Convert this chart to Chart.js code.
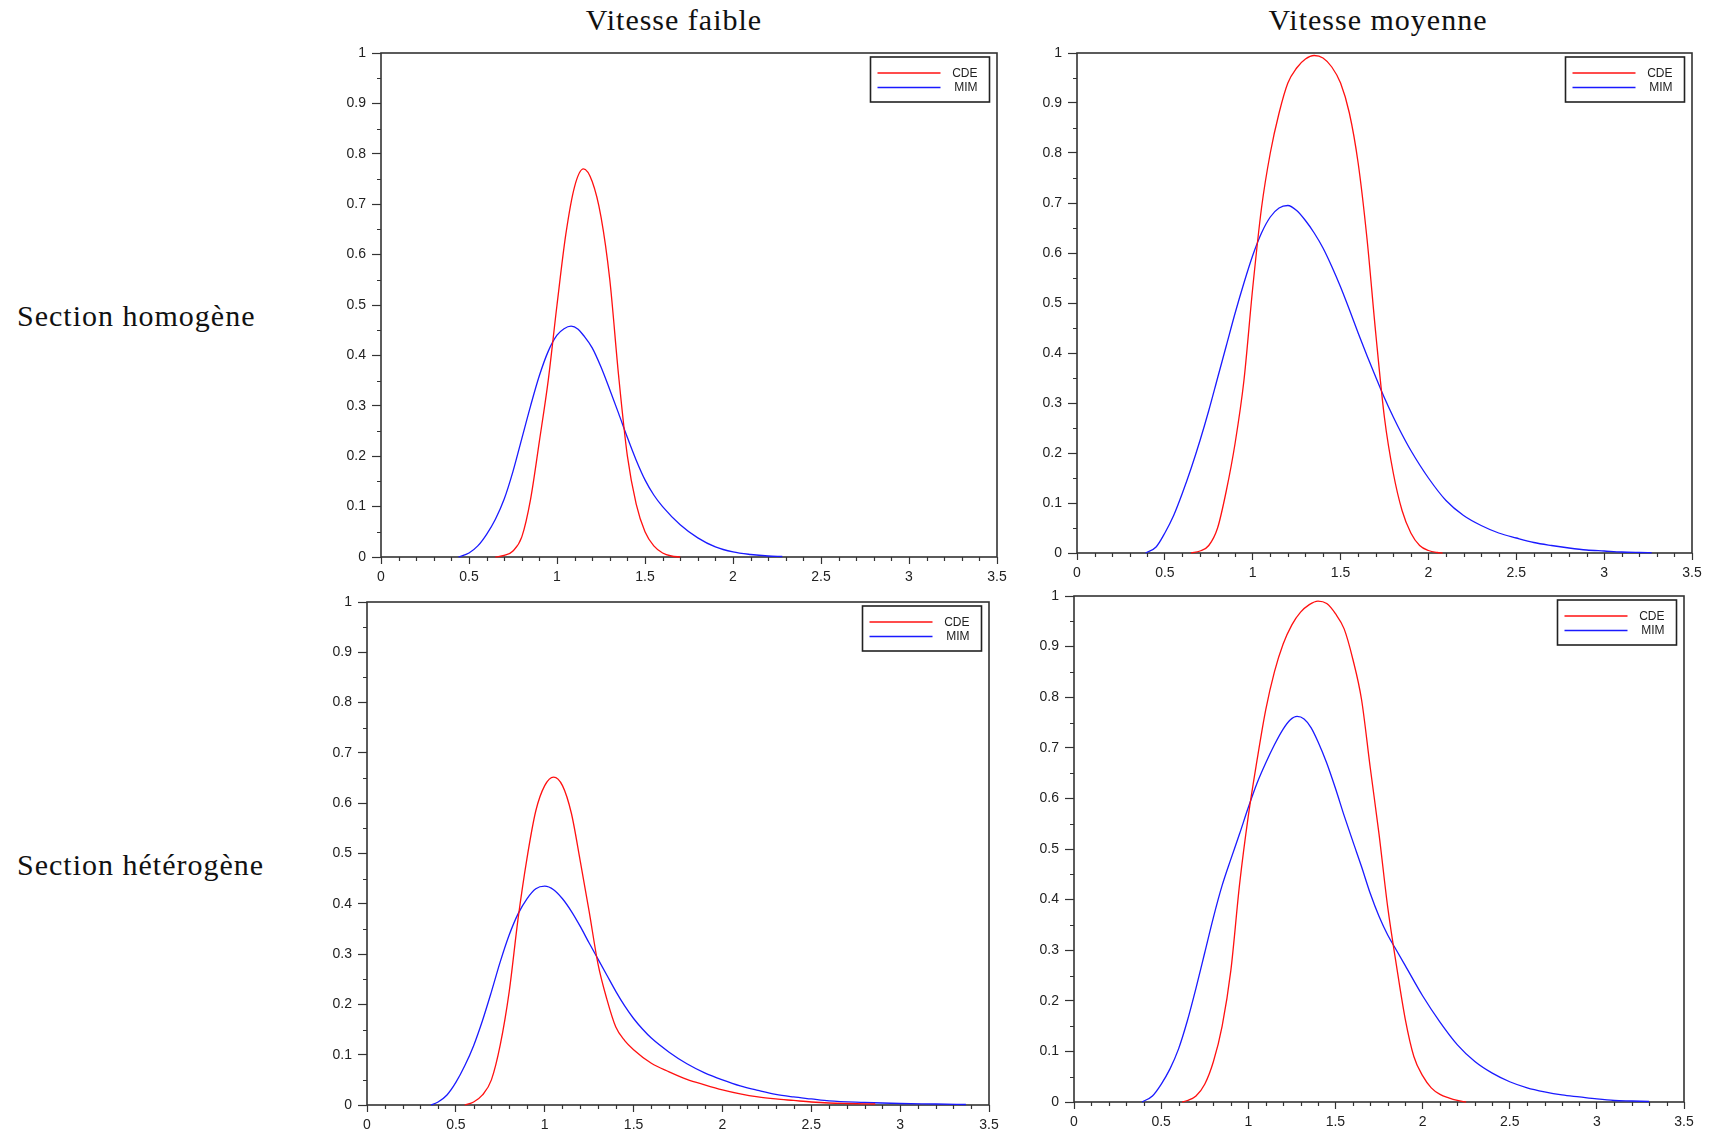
<!DOCTYPE html>
<html>
<head>
<meta charset="utf-8">
<script src="https://cdn.jsdelivr.net/npm/chart.js@4"></script>
<style>
  html, body { margin: 0; padding: 0; background: #fff; }
  body { width: 1715px; height: 1133px; position: relative; overflow: hidden; }
  canvas { position: absolute; }
  .lbl { position: absolute; font-family: "Liberation Serif", "Times New Roman", serif; font-size: 30px;
         letter-spacing: 1px; color: #111; white-space: nowrap; transform: translateY(-50%); }
  .ttl { transform: translate(-50%, -50%); }
</style>
</head>
<body>
<div class="lbl ttl" style="left:674px; top:20px;">Vitesse faible</div>
<div class="lbl ttl" style="left:1378px; top:20px;">Vitesse moyenne</div>
<div class="lbl" style="left:17px; top:316px;">Section homogène</div>
<div class="lbl" style="left:17px; top:865px;">Section hétérogène</div>

<canvas id="c1"></canvas>
<canvas id="c2"></canvas>
<canvas id="c3"></canvas>
<canvas id="c4"></canvas>

<script>
// series labels
var seriesNames = ["CDE", "MIM"];

// Section homogene, vitesse faible
var homFaibleCdeX = [0.65,0.7,0.75,0.8,0.85,0.9,0.95,1.0,1.05,1.1,1.15,1.2,1.25,1.3,1.35,1.4,1.45,1.5,1.55,1.6,1.65,1.7];
var homFaibleCdeY = [0,0.003,0.012,0.04,0.115,0.23,0.35,0.5,0.64,0.735,0.77,0.745,0.675,0.55,0.36,0.2,0.105,0.05,0.022,0.008,0.002,0];
var homFaibleMimX = [0.44,0.5,0.55,0.6,0.65,0.7,0.75,0.8,0.85,0.9,0.95,1.0,1.04,1.08,1.12,1.15,1.2,1.25,1.3,1.35,1.4,1.45,1.5,1.55,1.6,1.7,1.8,1.9,2.0,2.1,2.2,2.28];
var homFaibleMimY = [0,0.008,0.022,0.045,0.075,0.115,0.17,0.235,0.3,0.36,0.408,0.44,0.453,0.458,0.452,0.44,0.415,0.377,0.332,0.285,0.237,0.192,0.153,0.123,0.1,0.064,0.038,0.02,0.01,0.005,0.002,0.001];

// Section homogene, vitesse moyenne
var homMoyCdeX = [0.65,0.7,0.75,0.8,0.85,0.9,0.95,1.0,1.05,1.1,1.15,1.2,1.25,1.3,1.35,1.4,1.45,1.5,1.55,1.6,1.65,1.7,1.75,1.8,1.85,1.9,1.95,2.0,2.05,2.08];
var homMoyCdeY = [0,0.004,0.015,0.05,0.125,0.22,0.345,0.53,0.69,0.8,0.88,0.94,0.97,0.988,0.995,0.99,0.972,0.94,0.88,0.78,0.63,0.44,0.27,0.16,0.085,0.04,0.015,0.005,0.001,0];
var homMoyMimX = [0.39,0.45,0.5,0.55,0.6,0.65,0.7,0.75,0.8,0.85,0.9,0.95,1.0,1.05,1.1,1.15,1.2,1.25,1.3,1.35,1.4,1.45,1.5,1.55,1.6,1.65,1.7,1.75,1.8,1.85,1.9,2.0,2.1,2.2,2.3,2.4,2.5,2.6,2.7,2.8,2.9,3.0,3.1,3.2,3.27];
var homMoyMimY = [0,0.012,0.04,0.075,0.12,0.17,0.225,0.285,0.35,0.415,0.48,0.54,0.595,0.64,0.672,0.69,0.695,0.685,0.665,0.64,0.61,0.573,0.532,0.487,0.44,0.395,0.352,0.31,0.272,0.237,0.205,0.15,0.105,0.075,0.055,0.04,0.03,0.021,0.015,0.01,0.006,0.004,0.002,0.001,0.0005];

// Section heterogene, vitesse faible
var hetFaibleCdeX = [0.55,0.6,0.65,0.7,0.75,0.8,0.85,0.9,0.95,1.0,1.05,1.1,1.15,1.2,1.25,1.3,1.35,1.4,1.45,1.5,1.6,1.7,1.8,1.9,2.0,2.1,2.2,2.3,2.4,2.5,2.6,2.7,2.86];
var hetFaibleCdeY = [0,0.006,0.02,0.05,0.12,0.225,0.37,0.49,0.585,0.635,0.652,0.635,0.58,0.485,0.385,0.28,0.21,0.155,0.128,0.11,0.083,0.066,0.051,0.04,0.03,0.022,0.016,0.012,0.009,0.006,0.004,0.003,0.002];
var hetFaibleMimX = [0.36,0.4,0.45,0.5,0.55,0.6,0.65,0.7,0.75,0.8,0.85,0.9,0.95,1.0,1.05,1.1,1.15,1.2,1.25,1.3,1.35,1.4,1.45,1.5,1.55,1.6,1.7,1.8,1.9,2.0,2.1,2.2,2.3,2.4,2.5,2.6,2.8,3.0,3.2,3.37];
var hetFaibleMimY = [0,0.006,0.02,0.045,0.078,0.118,0.168,0.225,0.285,0.338,0.38,0.41,0.43,0.435,0.428,0.41,0.385,0.355,0.322,0.29,0.258,0.226,0.197,0.172,0.151,0.133,0.105,0.082,0.064,0.05,0.038,0.029,0.021,0.016,0.012,0.008,0.005,0.003,0.002,0.001];

// Section heterogene, vitesse moyenne
var hetMoyCdeX = [0.62,0.65,0.7,0.75,0.8,0.85,0.9,0.95,1.0,1.05,1.1,1.15,1.2,1.25,1.3,1.35,1.4,1.45,1.5,1.55,1.6,1.65,1.7,1.75,1.8,1.85,1.9,1.95,2.0,2.05,2.1,2.15,2.2,2.25];
var hetMoyCdeY = [0,0.003,0.012,0.035,0.08,0.15,0.26,0.43,0.565,0.675,0.775,0.85,0.905,0.943,0.968,0.983,0.99,0.985,0.965,0.935,0.875,0.795,0.66,0.53,0.385,0.27,0.165,0.09,0.052,0.028,0.015,0.008,0.003,0];
var hetMoyMimX = [0.39,0.45,0.5,0.55,0.6,0.65,0.7,0.75,0.8,0.85,0.9,0.95,1.0,1.05,1.1,1.15,1.2,1.24,1.28,1.32,1.36,1.4,1.45,1.5,1.55,1.6,1.65,1.7,1.75,1.8,1.85,1.9,2.0,2.1,2.2,2.3,2.4,2.5,2.6,2.7,2.8,2.9,3.0,3.1,3.2,3.3];
var hetMoyMimY = [0,0.012,0.035,0.065,0.105,0.16,0.225,0.295,0.365,0.428,0.48,0.53,0.582,0.63,0.67,0.706,0.737,0.755,0.762,0.757,0.74,0.712,0.67,0.62,0.566,0.515,0.465,0.412,0.367,0.33,0.3,0.27,0.21,0.158,0.113,0.08,0.057,0.04,0.028,0.02,0.014,0.01,0.006,0.003,0.002,0.001];

// axis ranges / ticks
var xMin = 0, xMax = 3.5, xStep = 0.5, xMinorStep = 0.1;
var yMin = 0, yMax = 1, yStep = 0.1, yMinorStep = 0.05;

var AX_W = 60, AX_H = 36, PAD_T = 15, PAD_R = 25;
var tickFont = { family: "'Liberation Sans', Arial, sans-serif", size: 14 };

function toPoints(xs, ys) {
  return xs.map(function (x, i) { return { x: x, y: ys[i] }; });
}

function fmtTick(v) {
  return String(+(+v).toFixed(2));
}

// frame + minor ticks
var framePlugin = {
  id: "frame",
  beforeDatasetsDraw: function (chart) {
    var a = chart.chartArea, ctx = chart.ctx;
    var xs = chart.scales.x, ys = chart.scales.y;
    ctx.save();
    ctx.strokeStyle = "#333";
    ctx.lineWidth = 1.2;
    ctx.beginPath();
    var nx = Math.round((xMax - xMin) / xMinorStep);
    for (var i = 0; i <= nx; i++) {
      if (i % 5 === 0) continue;
      var px = Math.round(xs.getPixelForValue(xMin + i * xMinorStep)) + 0.5;
      ctx.moveTo(px, a.bottom);
      ctx.lineTo(px, a.bottom + 4);
    }
    var ny = Math.round((yMax - yMin) / yMinorStep);
    for (var j = 0; j <= ny; j++) {
      if (j % 2 === 0) continue;
      var py = Math.round(ys.getPixelForValue(yMin + j * yMinorStep)) + 0.5;
      ctx.moveTo(a.left, py);
      ctx.lineTo(a.left - 4, py);
    }
    ctx.stroke();
    ctx.lineWidth = 1.6;
    ctx.strokeRect(a.left, a.top, a.right - a.left, a.bottom - a.top);
    ctx.restore();
  }
};

// boxed legend in the top right of the plot
var boxLegendPlugin = {
  id: "boxLegend",
  afterDraw: function (chart) {
    var a = chart.chartArea, ctx = chart.ctx;
    var w = 119, h = 45;
    var x0 = a.right - 7.5 - w, y0 = a.top + 4;
    ctx.save();
    ctx.fillStyle = "#fff";
    ctx.fillRect(x0, y0, w, h);
    ctx.strokeStyle = "#222";
    ctx.lineWidth = 1.6;
    ctx.strokeRect(x0, y0, w, h);
    ctx.font = "12px 'Liberation Sans', Arial, sans-serif";
    ctx.textAlign = "right";
    ctx.textBaseline = "middle";
    chart.data.datasets.forEach(function (ds, k) {
      var ly = y0 + 16 + k * 14.5;
      ctx.strokeStyle = ds.borderColor;
      ctx.lineWidth = 1.3;
      ctx.beginPath();
      ctx.moveTo(x0 + 7, ly);
      ctx.lineTo(x0 + 70, ly);
      ctx.stroke();
      ctx.fillStyle = "#222";
      ctx.fillText(ds.label, x0 + w - 12, ly + 0.5);
    });
    ctx.restore();
  }
};

function makeChart(id, rect, cdeX, cdeY, mimX, mimY) {
  var cv = document.getElementById(id);
  var w = rect.r - rect.l + AX_W + PAD_R;
  var h = rect.b - rect.t + PAD_T + AX_H;
  cv.width = w; cv.height = h;
  cv.style.left = (rect.l - AX_W) + "px";
  cv.style.top = (rect.t - PAD_T) + "px";
  cv.style.width = w + "px";
  cv.style.height = h + "px";

  return new Chart(cv.getContext("2d"), {
    type: "line",
    data: {
      datasets: [
        { label: seriesNames[0], data: toPoints(cdeX, cdeY), borderColor: "#ff1010", borderWidth: 1.3,
          pointRadius: 0, fill: false, cubicInterpolationMode: "monotone", clip: 4 },
        { label: seriesNames[1], data: toPoints(mimX, mimY), borderColor: "#1a1aff", borderWidth: 1.3,
          pointRadius: 0, fill: false, cubicInterpolationMode: "monotone", clip: 4 }
      ]
    },
    options: {
      responsive: false,
      animation: false,
      devicePixelRatio: 1,
      layout: { padding: { top: PAD_T, right: PAD_R, left: 0, bottom: 0 } },
      plugins: { legend: { display: false }, tooltip: { enabled: false } },
      scales: {
        x: {
          type: "linear", min: xMin, max: xMax,
          afterFit: function (s) { s.height = AX_H; },
          ticks: { stepSize: xStep, padding: 5, font: tickFont, color: "#222", maxRotation: 0, autoSkip: false,
                   callback: fmtTick },
          grid: { drawOnChartArea: false, tickLength: 7, tickColor: "#333", tickWidth: 1.2 },
          border: { display: false }
        },
        y: {
          type: "linear", min: yMin, max: yMax,
          afterFit: function (s) { s.width = AX_W; },
          ticks: { stepSize: yStep, padding: 6, font: tickFont, color: "#222", autoSkip: false,
                   callback: fmtTick },
          grid: { drawOnChartArea: false, tickLength: 9, tickColor: "#333", tickWidth: 1.2 },
          border: { display: false }
        }
      }
    },
    plugins: [framePlugin, boxLegendPlugin]
  });
}

makeChart("c1", { l: 381, t: 53, r: 997, b: 557 }, homFaibleCdeX, homFaibleCdeY, homFaibleMimX, homFaibleMimY);
makeChart("c2", { l: 1077, t: 53, r: 1692, b: 553 }, homMoyCdeX, homMoyCdeY, homMoyMimX, homMoyMimY);
makeChart("c3", { l: 367, t: 602, r: 989, b: 1105 }, hetFaibleCdeX, hetFaibleCdeY, hetFaibleMimX, hetFaibleMimY);
makeChart("c4", { l: 1074, t: 596, r: 1684, b: 1102 }, hetMoyCdeX, hetMoyCdeY, hetMoyMimX, hetMoyMimY);
</script>
</body>
</html>
